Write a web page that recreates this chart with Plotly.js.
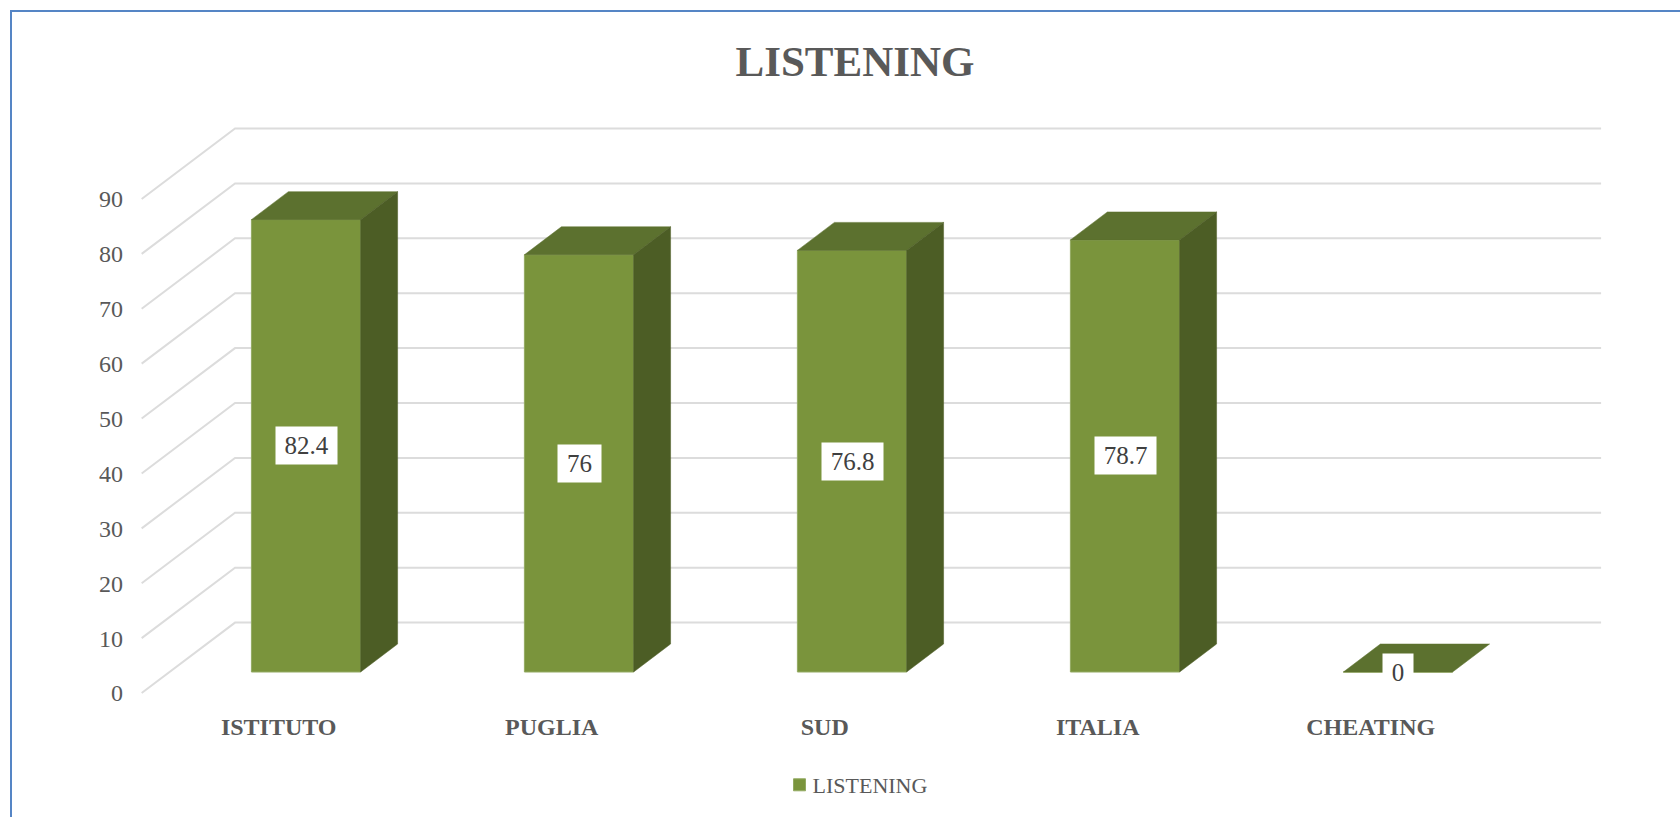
<!DOCTYPE html>
<html>
<head>
<meta charset="utf-8">
<script src="https://cdn.plot.ly/plotly-3.0.1.min.js"></script>
<style>html,body{margin:0;padding:0;background:#fff}</style>
</head>
<body>
<div id="chart" style="width:1680px;height:817px"></div>
<script>
const categories = ["ISTITUTO", "PUGLIA", "SUD", "ITALIA", "CHEATING"];
const listening = [82.4, 76, 76.8, 78.7, 0];
const yTicks = [0, 10, 20, 30, 40, 50, 60, 70, 80, 90];
const seriesName = "LISTENING";

const FONT = '"Liberation Serif", serif';
const GREY = "#595959";
const halfW = 0.2, depthX = 0.1355, depthY = 5.1;
const wallY = 9.0, frontY = -3.83;
const xs = categories.map((_, i) => i);

const traces = [];
traces.push({
  type: "bar", name: seriesName, x: xs, y: listening, width: halfW * 2,
  marker: {color: "#7a943c", line: {color: "#93aa62", width: 1}},
  showlegend: true, hoverinfo: "skip"
});
listening.forEach((v, i) => {
  const l = i - halfW, r = i + halfW;
  traces.push({
    type: "scatter", mode: "lines", fill: "toself", fillcolor: "#5c712f",
    line: {color: "#5c712f", width: 0.5}, showlegend: false, hoverinfo: "skip",
    x: [l, l + depthX, r + depthX, r, l],
    y: [v, v + depthY, v + depthY, v, v]
  });
  if (v > 0) traces.push({
    type: "scatter", mode: "lines", fill: "toself", fillcolor: "#4c5d25",
    line: {color: "#4c5d25", width: 0.5}, showlegend: false, hoverinfo: "skip",
    x: [r, r + depthX, r + depthX, r, r],
    y: [0, depthY, v + depthY, v, 0]
  });
});

const gridLeft = -0.602, gridBack = -0.26, gridRight = 4.744;
const shapes = yTicks.map(v => ({
  type: "path", layer: "below", xref: "x", yref: "y",
  path: `M${gridLeft},${v + frontY} L${gridBack},${v + wallY} L${gridRight},${v + wallY}`,
  line: {color: "#dcdcdc", width: 2}
}));
const plotL = 124, plotW = 1486, plotT = 110, plotH = 598;
const px = p => (p - plotL) / plotW, py = p => 1 - (p - plotT) / plotH;
shapes.push(
  {type: "line", xref: "paper", yref: "paper", x0: px(11), x1: px(11), y0: py(10), y1: py(817), line: {color: "#5585c5", width: 2}},
  {type: "line", xref: "paper", yref: "paper", x0: px(10), x1: px(1680), y0: py(11), y1: py(11), line: {color: "#5585c5", width: 2}}
);

const annotations = listening.map((v, i) => ({
  x: i, y: v / 2, xref: "x", yref: "y", text: String(v), showarrow: false,
  bgcolor: "#ffffff", font: {family: FONT, size: 25, color: "#404040"},
  width: v === 0 ? 28 : (String(v).length > 2 ? 59 : 41), height: 35,
  xanchor: "center", yanchor: "middle", align: "center", valign: "middle"
}));

const layout = {
  width: 1680, height: 817,
  margin: {l: plotL, r: 70, t: plotT, b: 109, autoexpand: false},
  paper_bgcolor: "#ffffff", plot_bgcolor: "rgba(0,0,0,0)",
  title: {text: "<b>LISTENING</b>", x: 855 / 1680, xanchor: "center", y: 1 - 61 / 817, yanchor: "middle",
          font: {family: FONT, size: 43, color: GREY}},
  xaxis: {range: [-0.6667, 4.7766], showgrid: false, zeroline: false, showline: false,
          tickmode: "array", tickvals: xs.map(i => i - 0.1), ticktext: categories.map(c => `<b>${c}</b>`),
          ticks: "", ticklabelstandoff: 2, tickfont: {family: FONT, size: 24, color: GREY}},
  yaxis: {range: [-6.557, 102.37], showgrid: false, zeroline: false, showline: false,
          tickmode: "array", tickvals: yTicks.map(v => v + frontY), ticktext: yTicks.map(String),
          ticks: "", tickfont: {family: FONT, size: 24, color: GREY}},
  legend: {x: px(772.5), xanchor: "left", y: py(785), yanchor: "middle", orientation: "h",
           font: {family: FONT, size: 22, color: GREY}, bgcolor: "rgba(0,0,0,0)"},
  shapes, annotations, hovermode: false
};
Plotly.newPlot("chart", traces, layout, {displayModeBar: false, staticPlot: true}).then(() => {
  document.querySelectorAll("#chart .legend .legendsymbols").forEach(s => s.setAttribute("transform", "translate(7,0)"));
});
</script>
</body>
</html>
